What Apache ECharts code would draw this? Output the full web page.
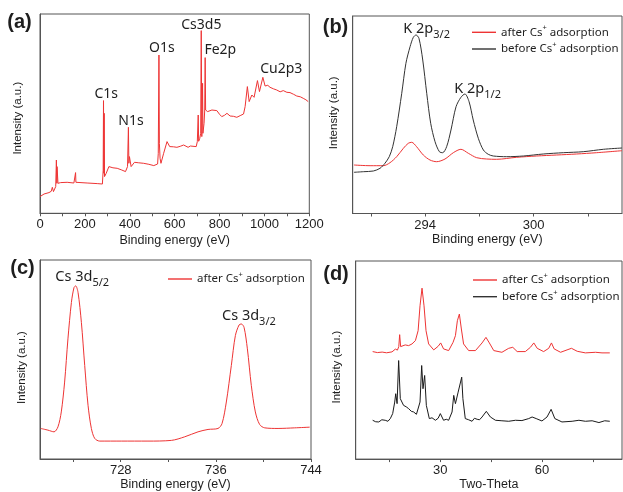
<!DOCTYPE html>
<html>
<head>
<meta charset="utf-8">
<title>XPS and XRD</title>
<script src="https://cdn.jsdelivr.net/npm/echarts@6/dist/echarts.min.js"></script>
<style>
  html, body { margin: 0; padding: 0; background: #fff; }
  #main { width: 623px; height: 492px; }
</style>
</head>
<body>
<div id="main"></div>
<script>
// (a) survey spectrum, [binding energy (eV), intensity (a.u.)]
const surveyData = [
  [0, 16.7], [18, 19.3], [40, 20.7], [50, 22], [55, 26], [60, 21.7], [70, 26.7], [73, 53.3], [75, 30],
  [76, 46.7], [80, 30], [92, 30.7], [121, 31], [151, 30.3], [157, 31], [158.5, 40.7], [160, 31],
  [163, 30.7], [210, 30.3], [255, 29.7], [278, 29.3], [281.5, 43], [283, 112.7], [284.5, 40],
  [286, 100], [287.5, 36.7], [295, 40], [307, 46.7], [325, 45.5], [344, 45], [362, 43.5], [381, 41.7],
  [390, 46.7], [394, 86], [396, 50], [398.5, 56.7], [406, 46.7], [421, 51], [440, 50.5], [462, 50],
  [485, 49], [507, 47.7], [524, 49.3], [527, 60], [530, 158.3], [532, 70], [535, 55], [539, 50],
  [551, 60], [566, 71.7], [578, 66.7], [595, 66.5], [610, 66], [625, 67], [640, 68.3], [660, 66],
  [670, 67.3], [696, 66.7], [701, 71.7], [705, 98.3], [707, 72], [712, 75], [716, 80], [718.5, 182.7],
  [721, 76.7], [724.4, 130], [726, 80], [731, 90], [734, 103.3], [736, 155.7], [738, 103.3],
  [747, 101.7], [766, 103.3], [788, 102.7], [800, 99], [810, 96.7], [822, 98], [833, 100], [847, 97.3],
  [862, 97], [877, 96], [895, 98], [907, 99.3], [914, 106.7], [924, 126.7], [932, 111.7], [944, 118.3],
  [954, 116], [969, 132.7], [978, 121.7], [993, 136], [1003, 127.3], [1015, 128], [1025, 126],
  [1040, 124.5], [1055, 123.3], [1070, 121.5], [1084, 122.7], [1100, 121], [1114, 120.7],
  [1130, 119], [1144, 117.3], [1160, 116.5], [1173, 115], [1185, 113.5], [1195, 111.7]
]

// (b) K 2p region
const k2pAfter = [
  [290.07, 48.5], [290.96, 47.8], [291.69, 47.8], [292.06, 50.8], [292.43, 56.8], [292.8, 65.2],
  [293.07, 70.2], [293.26, 71.2], [293.53, 66.8], [293.9, 58.5], [294.27, 53.5], [294.64, 51.8],
  [295.1, 54.5], [295.56, 60.8], [295.98, 64.2], [296.39, 60.2], [296.85, 55.8], [297.4, 54.5],
  [297.95, 54.2], [299.06, 56.2], [300.16, 57.5], [301.27, 58.5], [302.37, 59.5], [303.48, 60.8],
  [304.88, 62.8]
]
const k2pBefore = [
  [290.07, 41.2], [290.59, 41.8], [291.14, 42.5], [291.51, 45.2], [291.78, 50.2], [292.02, 56.8],
  [292.21, 66.8], [292.43, 86.8], [292.71, 120.2], [292.94, 150.2], [293.17, 166.8], [293.35, 176.2],
  [293.5, 178.5], [293.66, 175.2], [293.87, 153.5], [294.09, 120.2], [294.31, 90.2], [294.55, 71.8],
  [294.79, 61.8], [294.97, 60.8], [295.19, 66.8], [295.43, 83.5], [295.71, 106.8], [295.98, 116.2],
  [296.2, 119.5], [296.43, 111.8], [296.66, 93.5], [296.94, 75.2], [297.22, 63.5], [297.49, 59.2],
  [297.77, 57.5], [298.51, 56.8], [299.43, 57.5], [300.53, 59.5], [301.64, 60.8], [302.74, 61.8],
  [303.85, 64.2], [304.88, 65.5]
]

// (c) Cs 3d region
const cs3dAfter = [
  [721.27, 30.7], [721.88, 29], [722.39, 27.3], [722.72, 32.3], [723.0, 47.3], [723.28, 77.3],
  [723.56, 120.7], [723.85, 157.3], [724.07, 172.3], [724.21, 174], [724.41, 167.3], [724.69, 137.3],
  [724.97, 94], [725.25, 54], [725.53, 30.7], [725.81, 20.7], [726.23, 18], [728.05, 18], [730.29, 18],
  [732.26, 18.7], [733.38, 22.3], [734.5, 27.3], [735.34, 29.7], [736.18, 30.7], [736.52, 35.7],
  [736.88, 57.3], [737.3, 94], [737.64, 124], [737.95, 134.7], [738.14, 135.7], [738.37, 132.3],
  [738.65, 110.7], [738.98, 74], [739.32, 47.3], [739.68, 34.7], [740.11, 31.3], [741.23, 30.7],
  [742.63, 31.3], [743.89, 32]
]

// (d) XRD patterns, [two-theta, intensity]
const xrdAfter = [
  [10.1, 108], [11.5, 107], [12.9, 107.5], [14.2, 106.8], [15.8, 107.7], [16.8, 110.5], [17.4, 109.5],
  [17.8, 113], [18.06, 125], [18.35, 113], [19.7, 114.7], [20.7, 114], [21.7, 115.7], [22.7, 119],
  [23.5, 129], [24.06, 154], [24.65, 171.7], [25.24, 154], [25.83, 129], [26.6, 115.7], [28.1, 109.7],
  [29.4, 113.3], [30.15, 116.7], [31.0, 110.7], [32.5, 109], [33.8, 117.3], [34.5, 124], [35.07, 139],
  [35.66, 145.7], [36.25, 130.7], [36.9, 115.7], [38.4, 109], [40.4, 109], [42.35, 116.7], [43.5, 122.3],
  [44.5, 116.7], [45.8, 109], [48.2, 107.3], [50.2, 111.3], [51.4, 112.3], [52.7, 108], [55.1, 108],
  [56.6, 112.3], [57.6, 116.7], [58.6, 111.3], [60.5, 108], [62.0, 111.3], [62.8, 116.7], [63.6, 110.7],
  [65.5, 107.3], [67.4, 109.7], [68.7, 111.3], [70.4, 108.3], [72.8, 106.7], [75.8, 107.3],
  [77.7, 106.7], [80.0, 106.7]
]
const xrdBefore = [
  [10.1, 39], [11.0, 37.5], [11.9, 37.3], [12.8, 39.5], [13.8, 39], [14.6, 38], [15.3, 40.7], [16.0, 45.7],
  [16.6, 57.3], [16.9, 65.7], [17.3, 55.7], [17.76, 99], [18.25, 60.7], [19.2, 54], [20.0, 52.5],
  [20.7, 50.7], [21.5, 48], [22.2, 47.3], [23.0, 45], [23.5, 44.7], [24.06, 57.3], [24.55, 94],
  [24.94, 70.7], [25.43, 84], [25.92, 54], [26.8, 40.7], [27.6, 41.5], [28.6, 39], [29.4, 41],
  [30.05, 45.7], [31.0, 39], [31.8, 40], [32.5, 39], [33.5, 47.3], [34.0, 64], [34.5, 55.7], [35.3, 67.3],
  [35.8, 69], [36.35, 82.3], [36.7, 60.7], [37.4, 40.7], [38.4, 39.5], [39.4, 38], [40.1, 41], [40.9, 40],
  [41.6, 39.5], [42.35, 42.3], [43.6, 48], [44.8, 42.3], [46.3, 39], [48.2, 38.5], [50.2, 38], [52.2, 39],
  [54.1, 38.7], [56.1, 40.7], [57.1, 42.3], [58.3, 40.7], [60.0, 38.3], [61.5, 42.3], [62.7, 50],
  [63.8, 40.7], [65.9, 37.3], [68.9, 38], [70.9, 39], [72.8, 38], [74.8, 38.5], [76.8, 36.7],
  [78.5, 38.5], [80.0, 38]
]

// tick marks and tick labels
const surveyTicks = [0, 100, 200, 300, 400, 500, 600, 700, 800, 900, 1000, 1100, 1200]
const surveyLabels = [0, 200, 400, 600, 800, 1000, 1200]
const k2pTicks = [291, 294, 297, 300, 303]
const k2pLabels = [294, 300]
const cs3dTicks = [724, 728, 732, 736, 740, 744]
const cs3dLabels = [728, 736, 744]
const xrdTicks = [15, 30, 45, 60, 75]
const xrdLabels = [30, 60]

const nameAfter = "after Cs+ adsorption"
const nameBefore = "before Cs+ adsorption"

const RED = "#ee3434"
const BLACK = "#1a1a1a"
const AXIS = "#555"
const TXT = "#1e1e1e"
const FONT = "Liberation Sans"
const ANNO = "Noto Sans"

const chart = echarts.init(document.getElementById("main"), null, { renderer: "canvas" })

// x axis with custom tick positions
function xAxisOf(idx, min, max, ticks, labels, name, gap) {
  return {
    type: "value",
    gridIndex: idx,
    min: min,
    max: max,
    name: name,
    nameLocation: "middle",
    nameGap: gap,
    nameTextStyle: { fontFamily: FONT, fontSize: 12.5, color: TXT },
    axisLine: { show: true, lineStyle: { color: AXIS, width: 1 } },
    axisTick: { show: true, length: 3, customValues: ticks, lineStyle: { color: AXIS } },
    axisLabel: {
      customValues: labels,
      margin: 5,
      fontFamily: FONT,
      fontSize: 13,
      color: TXT,
      formatter: (v) => String(v)
    },
    splitLine: { show: false }
  }
}

function yAxisOf(idx, max, gap, pad) {
  return {
    type: "value",
    gridIndex: idx,
    min: 0,
    max: max,
    name: "Intensity (a.u.)",
    nameLocation: "middle",
    nameGap: gap,
    nameTextStyle: { fontFamily: FONT, fontSize: 11.5, color: TXT, padding: pad },
    axisLine: { show: true, lineStyle: { color: AXIS, width: 1 } },
    axisTick: { show: false },
    axisLabel: { show: false },
    splitLine: { show: false }
  }
}

function lineOf(name, idx, data, color, smooth) {
  return {
    name: name,
    type: "line",
    xAxisIndex: idx,
    yAxisIndex: idx,
    data: data,
    symbol: "none",
    smooth: smooth,
    lineStyle: { color: color, width: 1 },
    itemStyle: { color: color }
  }
}

// legend drawn as a thin bar plus label
function legendOf(left, top, names) {
  return {
    orient: "vertical",
    left: left,
    top: top,
    padding: 0,
    icon: "rect",
    itemWidth: 24,
    itemHeight: 1.4,
    itemGap: 0.7,
    selectedMode: false,
    data: names,
    formatter: function (n) {
      return n.replace("Cs+", "Cs{sup|+}")
    },
    textStyle: {
      fontFamily: ANNO,
      fontSize: 11.5,
      lineHeight: 16,
      color: TXT,
      rich: { sup: { fontFamily: ANNO, fontSize: 7.5, lineHeight: 9, verticalAlign: "top", color: TXT } }
    }
  }
}

// plain annotation
function note(text, x, y, size, bold) {
  return {
    type: "text",
    x: x,
    y: y,
    style: {
      text: text,
      font: (bold ? "bold " : "") + size + "px \"" + (bold ? FONT : ANNO) + "\"",
      fill: TXT,
      align: "center",
      verticalAlign: "middle",
      textAlign: "center",
      textVerticalAlign: "middle"
    }
  }
}

// peak label with subscript
function peakNote(main, sub, left, top) {
  return {
    type: "text",
    x: left,
    y: top,
    style: {
      text: "{m|" + main + "}{s|" + sub + "}",
      fill: TXT,
      align: "left",
      verticalAlign: "top",
      rich: {
        m: { fontFamily: ANNO, fontSize: 14.5, lineHeight: 22, color: TXT },
        s: { fontFamily: ANNO, fontSize: 11, lineHeight: 12, verticalAlign: "bottom", color: TXT }
      }
    }
  }
}

const gridStyle = { show: true, borderColor: AXIS, borderWidth: 1, backgroundColor: "transparent" }

const option = {
  animation: false,
  backgroundColor: "#fff",
  grid: [
    Object.assign({ left: 40, top: 14, width: 269.3, height: 199.3 }, gridStyle),
    Object.assign({ left: 352.7, top: 16, width: 269.3, height: 197.5 }, gridStyle),
    Object.assign({ left: 40, top: 260, width: 271, height: 200 }, gridStyle),
    Object.assign({ left: 355.7, top: 261, width: 266.3, height: 199 }, gridStyle)
  ],
  xAxis: [
    xAxisOf(0, 0, 1200, surveyTicks, surveyLabels, "Binding energy (eV)", 21),
    xAxisOf(1, 290, 304.88, k2pTicks, k2pLabels, "Binding energy (eV)", 20),
    xAxisOf(2, 721.21, 744, cs3dTicks, cs3dLabels, "Binding energy (eV)", 19),
    xAxisOf(3, 5.1, 83.6, xrdTicks, xrdLabels, "Two-Theta", 16.5)
  ],
  yAxis: [
    yAxisOf(0, 199.3, 16.5, [0, 9, 0, 0]),
    yAxisOf(1, 197.5, 13, [0, 0, 0, 4]),
    yAxisOf(2, 200, 12.5, [0, 16, 0, 0]),
    yAxisOf(3, 199, 12.5, [0, 14, 0, 0])
  ],
  legend: [
    legendOf(472, 24.3, [nameAfter, nameBefore]),
    legendOf(168, 271, [nameAfter]),
    legendOf(473, 272, [nameAfter, nameBefore])
  ],
  series: [
    lineOf("survey", 0, surveyData, RED, false),
    lineOf(nameAfter, 1, k2pAfter, RED, 0.3),
    lineOf(nameBefore, 1, k2pBefore, "#333", 0.3),
    lineOf(nameAfter, 2, cs3dAfter, RED, 0.3),
    lineOf(nameAfter, 3, xrdAfter, RED, false),
    lineOf(nameBefore, 3, xrdBefore, BLACK, false)
  ],
  graphic: [
    note("(a)", 19.5, 22.5, 20, true),
    note("(b)", 335.5, 27.5, 20, true),
    note("(c)", 22.5, 268, 20, true),
    note("(d)", 336, 274, 20, true),
    note("C1s", 106.3, 93.8, 14),
    note("N1s", 131, 121.3, 14),
    note("O1s", 161.8, 48.3, 14),
    note("Cs3d5", 201.3, 24.7, 14),
    note("Fe2p", 220.3, 50, 14),
    note("Cu2p3", 281.3, 69, 14),
    peakNote("K 2p", "3/2", 403.3, 18),
    peakNote("K 2p", "1/2", 454.3, 78),
    peakNote("Cs 3d", "5/2", 55.3, 266.3),
    peakNote("Cs 3d", "3/2", 222, 305.3)
  ]
}

chart.setOption(option)
</script>
</body>
</html>
